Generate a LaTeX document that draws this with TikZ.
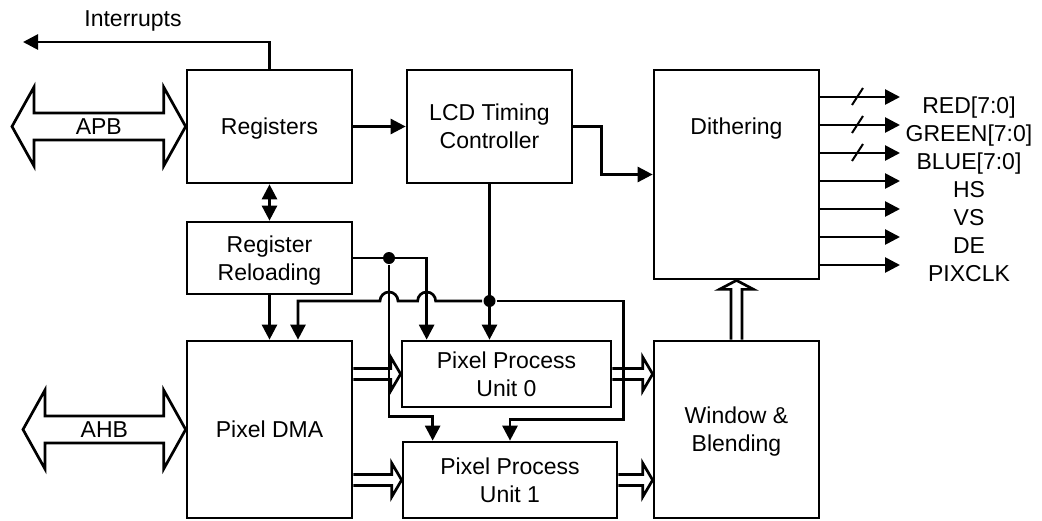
\documentclass[tikz,border=0pt]{standalone}
\usepackage{fontspec}
\setmainfont{Liberation Sans}
\usetikzlibrary{calc,arrows.meta}

\begin{document}
\begin{tikzpicture}[
    x=1pt,y=-1pt,
    line width=2.7pt,
    font=\fontsize{23}{28}\selectfont,
    blk/.style={draw,align=center,text depth=0pt,inner sep=0pt},
    txt/.style={text depth=0pt,inner sep=0pt},
    sig/.style={-{Triangle[length=15pt,width=15pt]}},
    sig2/.style={{Triangle[length=15pt,width=15pt]}-{Triangle[length=15pt,width=15pt]}},
    dot/.style={circle,fill,inner sep=0pt,minimum size=12pt},
    fatr/.style={to path={let \p1=(\tikztostart),\p2=(\tikztotarget) in
      (\x1,\y1+5.5pt) -- (\x2-10pt,\y1+5.5pt) -- (\x2-10pt,\y1+17pt) -- (\x2,\y1)
      -- (\x2-10pt,\y1-17pt) -- (\x2-10pt,\y1-5.5pt) -- (\x1,\y1-5.5pt)}},
    fatu/.style={to path={let \p1=(\tikztostart),\p2=(\tikztotarget) in
      (\x1-5.5pt,\y1) -- (\x1-5.5pt,\y2-9pt) -- (\x1-17pt,\y2-9pt) -- (\x1,\y2)
      -- (\x1+17pt,\y2-9pt) -- (\x1+5.5pt,\y2-9pt) -- (\x1+5.5pt,\y1)}},
    bus/.style={to path={let \p1=(\tikztostart),\p2=(\tikztotarget) in
      (\x1,\y1) -- (\x1+22pt,\y1+39.5pt) -- (\x1+22pt,\y1+13.5pt) -- (\x2-22pt,\y1+13.5pt)
      -- (\x2-22pt,\y1+39.5pt) -- (\x2,\y1) -- (\x2-22pt,\y1-39.5pt) -- (\x2-22pt,\y1-13.5pt)
      -- (\x1+22pt,\y1-13.5pt) -- (\x1+22pt,\y1-39.5pt) -- cycle}}
  ]
  \useasboundingbox (0,0) rectangle (1042,520);

  % blocks
  \node[blk,minimum width=165pt,minimum height=113pt] (regs) at (269.5,126.5) {Registers};
  \node[blk,minimum width=165pt,minimum height=113pt] (lcd) at (489.5,126.5) {LCD Timing\\Controller};
  \node[blk,minimum width=165pt,minimum height=209pt] (dith) at (736.5,174.5) {};
  \node[txt] (dithtxt) at (dith |- regs) {Dithering};
  \node[blk,minimum width=165pt,minimum height=72pt] (reload) at (269.5,258) {Register\\Reloading};
  \node[blk,minimum width=165pt,minimum height=177pt] (dma) at (269.5,429.5) {Pixel DMA};
  \node[blk,minimum width=209pt,minimum height=66pt] (ppu0) at (506.5,374) {Pixel Process\\Unit 0};
  \node[blk,minimum width=214pt,minimum height=76pt] (ppu1) at (510,480) {Pixel Process\\Unit 1};
  \node[blk,minimum width=165pt,minimum height=177pt] (wb) at (736.5,429.5) {Window \&\\Blending};

  % buses
  \coordinate (apb) at (12,126.5);
  \coordinate (ahb) at (23,429.5);
  \draw[bus] (apb) to (regs.west);
  \node[txt] (apbtxt) at ($(apb)!0.5!(regs.west)$) {APB};
  \draw[bus] (ahb) to (dma.west);
  \node[txt] (ahbtxt) at ($(ahb)!0.5!(dma.west)$) {AHB};

  % interrupts
  \coordinate (irq) at (23,42);
  \draw[sig] (regs.north) |- (irq);
  \node[anchor=base] (irqtxt) at (133,26) {Interrupts};

  \draw[sig] (regs) -- (lcd);
  \draw[sig] (lcd.east) -- ++(28,0) |- (dith.west);
  \draw[sig2] (regs) -- (reload);
  \draw[sig] (reload) -- (dma);

  % control lines to the pixel units
  \node[dot] (jr) at (389,258) {};
  \node[dot] (jl) at (lcd.south |- 0,301) {};
  \coordinate (r0) at ($(ppu0.north west)+(26,0)$);
  \draw[sig] (reload.east) -| (r0);
  \draw[sig] (jr) |- ($(ppu1.north west)+(31,-24)$) -- ($(ppu1.north west)+(31,0)$);
  \draw[sig] (lcd.south) -- (lcd.south |- ppu0.north);
  \draw[sig] (jl) -- ($(r0 |- jl)+(9,0)$) arc[start angle=0,end angle=180,radius=9pt]
    -- ($(jr |- jl)+(9,0)$) arc[start angle=0,end angle=180,radius=9pt]
    -| ($(dma.north)+(28.5,0)$);
  \draw[sig] (jl) -| ($(ppu0.south east)+(11,11)$) -| (ppu1.north);

  % pixel data paths
  \draw[fatr] (dma.east |- ppu0) to (ppu0.west);
  \draw[fatr] (dma.east |- ppu1) to (ppu1.west);
  \draw[fatr] (ppu0.east) to (wb.west |- ppu0);
  \draw[fatr] (ppu1.east) to (wb.west |- ppu1);
  \draw[fatu] (wb.north) to (dith.south);

  % outputs
  \foreach \sig [count=\i from 0] in {RED[7:0],GREEN[7:0],BLUE[7:0],HS,VS,DE,PIXCLK}{
    \coordinate (pin\i) at (900,97+28*\i);
    \draw[sig] (dith.east |- pin\i) -- (pin\i);
    \node[anchor=base] (out\i) at (969,113+28*\i) {\sig};
  }
  \foreach \i in {0,1,2}
    \draw[line width=2pt] ($(pin\i)+(-48,8)$) -- ++(11,-17);
\end{tikzpicture}
\end{document}
